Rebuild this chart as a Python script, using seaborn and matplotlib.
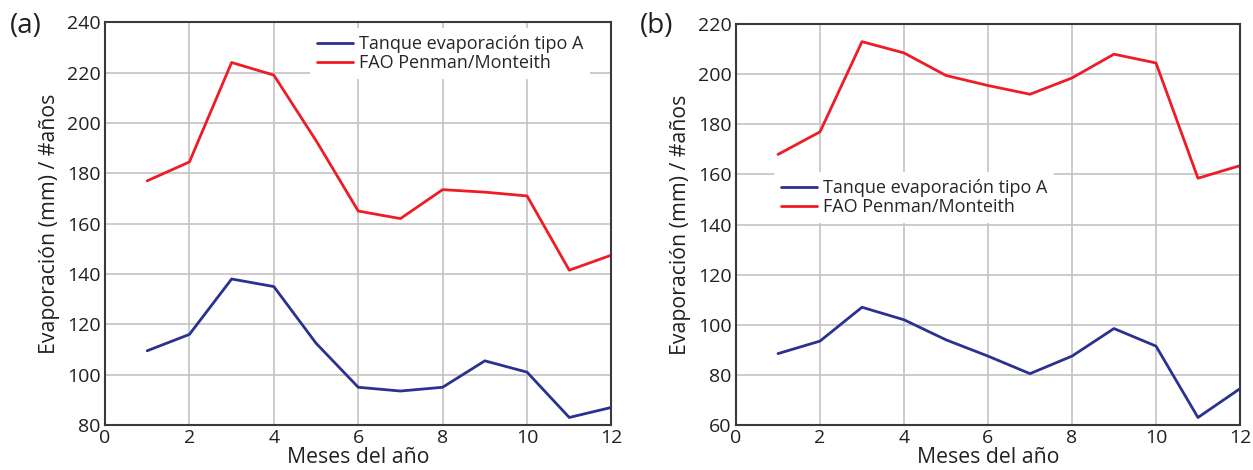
import pandas as pd
import numpy as np
import matplotlib
matplotlib.use("Agg")
import matplotlib.pyplot as plt
import seaborn as sns

# DATA
months = [1, 2, 3, 4, 5, 6, 7, 8, 9, 10, 11, 12]
tanque_a = [109.5, 116, 138, 135, 112.5, 95, 93.5, 95, 105.5, 101, 83, 87]
fao_a = [177, 184.5, 224, 219, 193, 165, 162, 173.5, 172.5, 171, 141.5, 147.5]
tanque_b = [88.5, 93.5, 107, 102, 94, 87.5, 80.5, 87.5, 98.5, 91.5, 63, 74.5]
fao_b = [168, 177, 213, 208.5, 199.5, 195.5, 192, 198.5, 208, 204.5, 158.5, 163.5]
series_names = ["Tanque evaporación tipo A", "FAO Penman/Monteith"]
panel_labels = ["(a)", "(b)"]

sns.set_style("whitegrid")
plt.rcParams['font.family'] = ['Open Sans', 'DejaVu Sans']

pal = {series_names[0]: "#2b3190", series_names[1]: "#ee1c25"}


def make_frame(tanque, fao):
    df = pd.DataFrame({"mes": months, series_names[0]: tanque, series_names[1]: fao})
    return df.melt(id_vars="mes", var_name="serie", value_name="evap")


fig = plt.figure(figsize=(12.53, 4.70), dpi=100)
ax1 = fig.add_axes([0.0838, 0.0957, 0.4042, 0.857])
ax2 = fig.add_axes([0.5874, 0.0957, 0.4022, 0.853])

panels = [
    (ax1, make_frame(tanque_a, fao_a), (80, 240), dict(loc="upper right", bbox_to_anchor=(0.965, 0.995)), 0.008),
    (ax2, make_frame(tanque_b, fao_b), (60, 220), dict(loc="upper left", bbox_to_anchor=(0.068, 0.64)), 0.511),
]

for i, (ax, df, ylim, legkw, xlab) in enumerate(panels):
    sns.lineplot(data=df, x="mes", y="evap", hue="serie", palette=pal,
                 linewidth=2, ax=ax)
    ax.set_xlim(0, 12)
    ax.set_ylim(*ylim)
    ax.set_xticks(np.arange(0, 13, 2))
    ax.set_yticks(np.arange(ylim[0], ylim[1] + 1, 20))
    ax.grid(True, color="#c4c4c4", linewidth=1.2)
    for sp in ax.spines.values():
        sp.set_color("#3a3a3a")
        sp.set_linewidth(1.5)
    ax.tick_params(axis="both", labelsize=14, length=0, pad=3, colors="#231f20")
    ax.set_xlabel("Meses del año", fontsize=15.3, color="#231f20", labelpad=0)
    ax.set_ylabel("Evaporación (mm) / #años", fontsize=15.3, color="#231f20", labelpad=5)
    leg = ax.legend(frameon=True, fontsize=13, handlelength=2.0, handletextpad=0.3,
                    borderaxespad=0.2, labelspacing=0.05, **legkw)
    leg.get_frame().set_edgecolor("none")
    leg.get_frame().set_facecolor("white")
    leg.get_frame().set_alpha(1)
    leg.set_title(None)
    fig.text(xlab, 0.945, panel_labels[i], fontsize=20, color="#231f20",
             va="center", ha="left")

fig.savefig("out.png", dpi=100)
plt.close('all')
